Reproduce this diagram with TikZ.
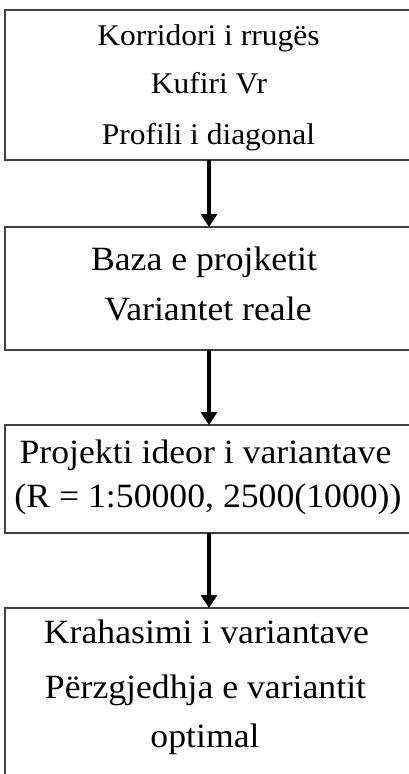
\documentclass[tikz,border=0pt]{standalone}
\usepackage{fontspec}
\setmainfont[Ligatures=NoCommon,FakeStretch=1.05]{Liberation Serif}
\usetikzlibrary{arrows.meta}
\tikzset{
  stagebox/.style={draw=black!75, line width=1.4pt, inner sep=0pt, outer sep=0pt, minimum width=408pt},
  txtA/.style={inner sep=0pt, anchor=base, font=\fontsize{30}{34}\selectfont},
  txtB/.style={inner sep=0pt, anchor=base, font=\fontsize{34}{38}\selectfont},
  flowarrow/.style={line width=4pt, -{Triangle[width=16pt,length=13pt]}}
}
\begin{document}
\begin{tikzpicture}[x=1pt,y=-1pt]
\clip (0,0) rectangle (409,774);
\node[stagebox, minimum height=150pt] (b1) at (209,85) {};
\node[stagebox, minimum height=123pt] (b2) at (209,288.5) {};
\node[stagebox, minimum height=108pt] (b3) at (209,479) {};
\node[stagebox, minimum height=182pt] (b4) at (209,699) {};
\node[txtA] (t11) at (208.5,45) {Korridori i rrugës};
\node[txtA] (t12) at (209,93) {Kufiri Vr};
\node[txtA] (t13) at (208.5,144) {Profili i diagonal};
\node[txtB] (t21) at (204,270) {Baza e projketit};
\node[txtB] (t22) at (208,320) {Variantet reale};
\node[txtB] (t31) at (205.5,463) {Projekti ideor i variantave};
\node[txtB] (t32) at (208,507) {(R = 1:50000, 2500(1000))};
\node[txtB] (t41) at (206.5,643) {Krahasimi i variantave};
\node[txtB] (t42) at (205.5,698) {Përzgjedhja e variantit};
\node[txtB] (t43) at (205,747) {optimal};
\draw[flowarrow] (b1.south) -- (b2.north);
\draw[flowarrow] (b2.south) -- (b3.north);
\draw[flowarrow] (b3.south) -- (b4.north);
\end{tikzpicture}
\end{document}
